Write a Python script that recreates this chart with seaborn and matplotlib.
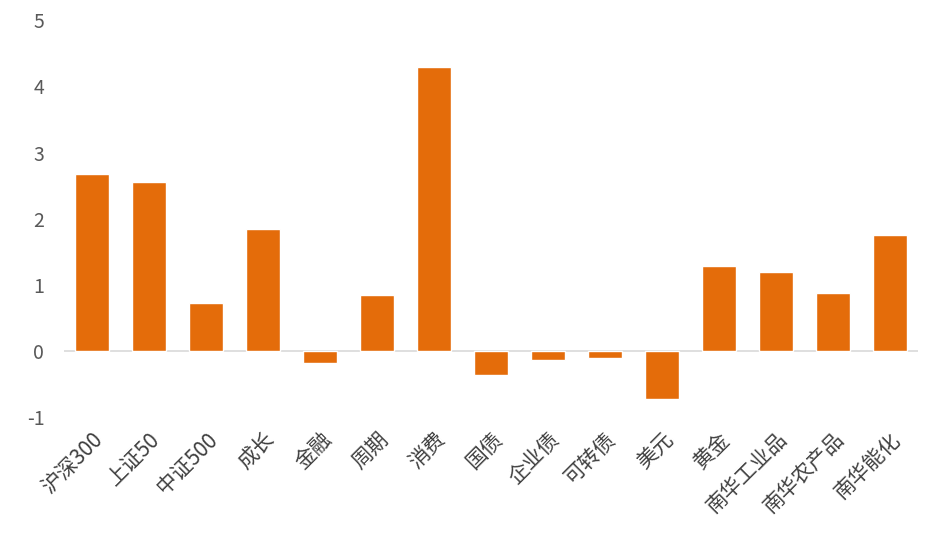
import matplotlib
matplotlib.use("Agg")
import matplotlib.pyplot as plt
import seaborn as sns
import pandas as pd

categories = ["沪深300","上证50","中证500","成长","金融","周期","消费","国债","企业债","可转债","美元","黄金","南华工业品","南华农产品","南华能化"]
values = [2.67,2.56,0.72,1.85,-0.18,0.85,4.29,-0.37,-0.14,-0.11,-0.73,1.29,1.19,0.87,1.76]
yticks = [-1,0,1,2,3,4,5]

sns.set_theme(style="white")
plt.rcParams['font.family'] = ['Noto Sans CJK SC', 'DejaVu Sans']

fig = plt.figure(figsize=(9.37,5.34), dpi=100)
ax = fig.add_axes([0.068,0.219,0.912,0.743])
df = pd.DataFrame({"cat":categories,"val":values})
sns.barplot(data=df, x="cat", y="val", color="#E46C0A", saturation=1, width=0.6, ax=ax)
ax.set_ylim(-1,5)
ax.set_yticks(yticks)
ax.set_yticklabels([str(t) for t in yticks], color="#595959", fontsize=14)
ax.axhline(0, color="#D9D9D9", lw=1.2, zorder=0)
for s in ax.spines.values():
    s.set_visible(False)
ax.tick_params(axis='x', length=0, pad=8)
ax.tick_params(axis='y', length=0, pad=14)
ax.set_xticks(range(len(categories)))
ax.set_xticklabels(categories, rotation=45, ha='right', rotation_mode='anchor', fontsize=15, color="#404040")
ax.set_xlabel(""); ax.set_ylabel("")
ax.set_xlim(-0.5, len(categories)-0.5)
fig.savefig("out.png", dpi=100, facecolor="white")
